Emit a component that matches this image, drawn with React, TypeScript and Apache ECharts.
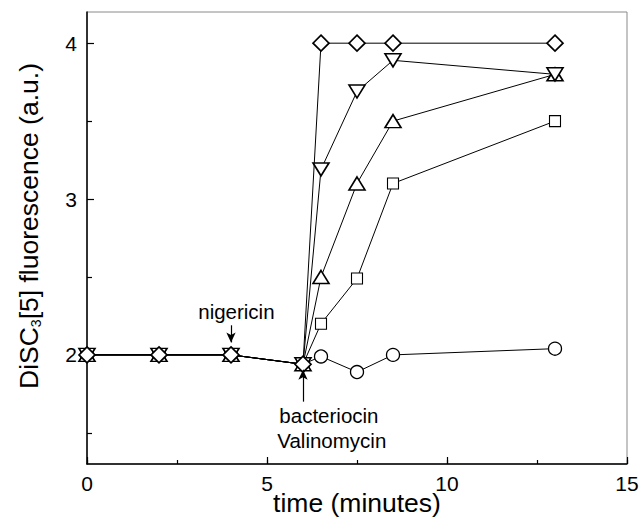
import React, { useEffect, useRef } from "react";
import * as echarts from "echarts";

const times = [0, 2, 4, 6, 6.5, 7.5, 8.5, 13];
const diamondVals = [2, 2, 2, 1.94, 4, 4, 4, 4];
const downTriVals = [2, 2, 2, 1.94, 3.19, 3.69, 3.89, 3.8];
const upTriVals = [2, 2, 2, 1.94, 2.5, 3.1, 3.5, 3.8];
const squareVals = [2, 2, 2, 1.94, 2.2, 2.49, 3.1, 3.5];
const circleVals = [2, 2, 2, 1.94, 1.99, 1.89, 2.0, 2.04];

const yMajorTicks = [2, 3, 4];
const yMinorTicks = [1.5, 2.5, 3.5];

const annotationTexts = ["nigericin", "bacteriocin", "Valinomycin"];
const annotationPos: [number, number][] = [
  [4.15, 2.28],
  [6.72, 1.61],
  [6.8, 1.45],
];
const arrows: [number, number, number, number][] = [
  [4, 2.19, 4, 2.08],
  [6, 1.7, 6, 1.905],
];

const FONT = "Liberation Sans, Arial, Helvetica, sans-serif";

export default function App() {
  const ref = useRef<HTMLDivElement>(null);
  useEffect(() => {
    document.body.style.margin = "0";
    const chart = echarts.init(ref.current!, null, { renderer: "svg" });
    const pair = (vals: number[]) => times.map((t, i) => [t, vals[i]]);
    const mk = (
      name: string,
      vals: number[],
      symbol: string,
      size: number | number[],
      rotate = 0,
      bw = 1.5
    ) => ({
      type: "line",
      name,
      data: pair(vals),
      symbol,
      symbolSize: size,
      symbolRotate: rotate,
      showAllSymbol: true,
      clip: false,
      lineStyle: { color: "#000", width: 1 },
      itemStyle: { color: "#fff", borderColor: "#000", borderWidth: bw },
      z: 3,
    });
    chart.setOption({
      animation: false,
      backgroundColor: "#fff",
      textStyle: { fontFamily: FONT, color: "#000" },
      grid: {
        left: 87,
        right: 13,
        top: 12,
        bottom: 53,
        show: true,
        borderColor: "#8a8a8a",
        borderWidth: 1,
        containLabel: false,
        outerBoundsMode: "none",
      },
      xAxis: [
        {
          type: "value",
          min: 0,
          max: 15,
          interval: 5,
          name: "time (minutes)",
          nameLocation: "middle",
          nameGap: 25,
          nameMoveOverlap: false,
          nameTextStyle: { fontSize: 26.5, color: "#000", fontFamily: FONT, lineHeight: 27 },
          axisLine: { lineStyle: { color: "#000", width: 1.5 } },
          axisTick: { inside: true, length: 7, lineStyle: { color: "#000", width: 1.2 } },
          axisLabel: { fontSize: 21, color: "#000", margin: 9, fontFamily: FONT },
          splitLine: { show: false },
        },
        {
          type: "value",
          min: 0,
          max: 15,
          interval: 2.5,
          position: "bottom",
          axisLine: { show: false },
          axisTick: { inside: true, length: 4, lineStyle: { color: "#000", width: 1.2 } },
          axisLabel: { show: false },
          splitLine: { show: false },
        },
      ],
      yAxis: [
        {
          type: "value",
          min: 1.3,
          max: 4.2,
          name: "{a|DiSC}{s|3}{a|[5] fluorescence (a.u.)}",
          nameLocation: "middle",
          nameGap: 44,
          nameMoveOverlap: false,
          nameTextStyle: {
            color: "#000",
            padding: [0, 0, 0, 24],
            rich: {
              a: { fontSize: 26.5, fontFamily: FONT, color: "#000", lineHeight: 28 },
              s: { fontSize: 14, fontFamily: FONT, color: "#000", verticalAlign: "bottom", lineHeight: 6 },
            },
          },
          axisLine: { lineStyle: { color: "#000", width: 1.5 } },
          axisTick: {
            inside: true,
            length: 7,
            customValues: yMajorTicks,
            lineStyle: { color: "#000", width: 1.2 },
          },
          axisLabel: {
            fontSize: 21,
            color: "#000",
            margin: 10,
            fontFamily: FONT,
            customValues: yMajorTicks,
          },
          splitLine: { show: false },
        },
        {
          type: "value",
          min: 1.3,
          max: 4.2,
          position: "left",
          axisLine: { show: false },
          axisTick: {
            inside: true,
            length: 5,
            customValues: yMinorTicks,
            lineStyle: { color: "#000", width: 1.2 },
          },
          axisLabel: { show: false, customValues: yMinorTicks },
          splitLine: { show: false },
        },
      ],
      series: [
        mk("circle", circleVals, "circle", 13, 0, 1.3),
        mk("square", squareVals, "rect", 11, 0, 1.1),
        mk("up", upTriVals, "triangle", [16, 13], 0, 1.6),
        mk("down", downTriVals, "triangle", [16, 13], 180, 1.6),
        mk("diamond", diamondVals, "diamond", [16, 16], 0, 1.7),
        {
          type: "scatter",
          name: "annotations",
          symbolSize: 0,
          itemStyle: { color: "#000", opacity: 1 },
          data: annotationPos.map((p, i) => ({ value: p, name: annotationTexts[i] })),
          label: {
            show: true,
            position: "inside",
            formatter: "{b}",
            fontSize: 20.5,
            color: "#000",
            opacity: 1,
            textBorderWidth: 0,
            textBorderColor: "transparent",
            fontFamily: FONT,
          },
          markLine: {
            silent: true,
            symbol: ["none", "arrow"],
            symbolSize: [7, 10],
            label: { show: false },
            lineStyle: { color: "#000", width: 1.2, type: "solid", opacity: 1 },
            data: arrows.map((a) => [
              { coord: [a[0], a[1]] },
              { coord: [a[2], a[3]] },
            ]),
          },
          z: 4,
        },
      ],
    });
    return () => chart.dispose();
  }, []);
  return (
    <div
      ref={ref}
      style={{ position: "absolute", left: 0, top: 0, width: 640, height: 517 }}
    />
  );
}
